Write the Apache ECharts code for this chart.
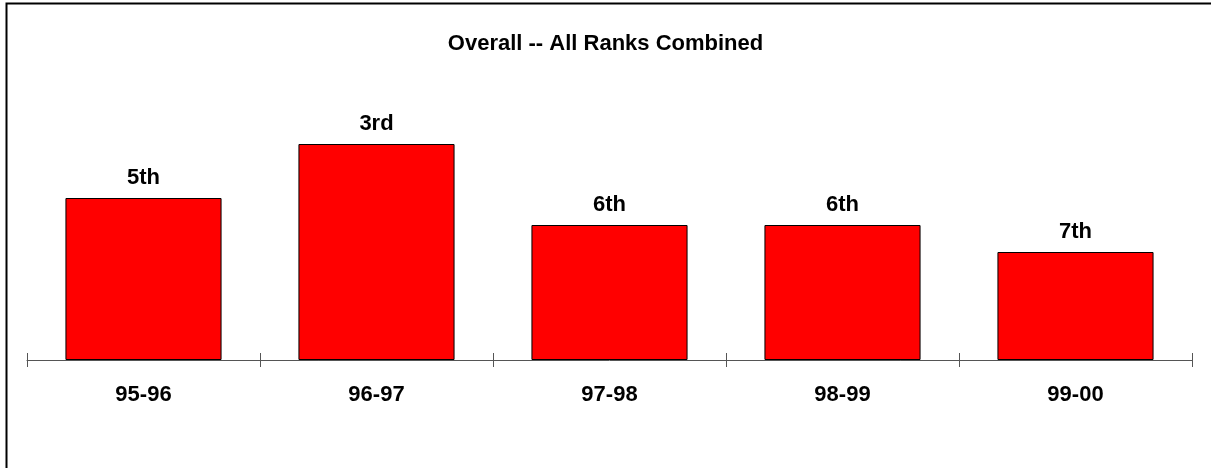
<!DOCTYPE html>
<html>
<head>
<meta charset="utf-8">
<script src="https://cdn.jsdelivr.net/npm/echarts@6/dist/echarts.min.js"></script>
<style>
  html, body { margin: 0; padding: 0; background: #fff; }
  #chart { width: 1211px; height: 468px; }
</style>
</head>
<body>
<div id="chart"></div>
<script>
// Seasons and the overall rank earned in each
const seasons = ['95-96', '96-97', '97-98', '98-99', '99-00'];
const ranks = [5, 3, 6, 6, 7];
// Bars are taller for better ranks: height = number of places above 11th
const RANK_BASE = 11;

function ordinal(n) {
  const s = ['th', 'st', 'nd', 'rd'];
  const v = n % 100;
  return n + (s[(v - 20) % 10] || s[v] || s[0]);
}

const barData = ranks.map(r => ({ value: RANK_BASE - r, rank: r }));

const FONT = '"Liberation Sans", Arial, Helvetica, sans-serif';
const chart = echarts.init(document.getElementById('chart'), null, { renderer: 'canvas' });

const axisLine = { show: true, lineStyle: { color: '#555', width: 1 } };

chart.setOption({
  animation: false,
  backgroundColor: '#fff',
  title: {
    text: 'Overall -- All Ranks Combined',
    left: 'center',
    top: 28,
    textStyle: { fontFamily: FONT, fontSize: 22, fontWeight: 'bold', color: '#000' }
  },
  grid: { left: 27, right: 19, top: 90, bottom: 108 },
  xAxis: [
    {
      type: 'category',
      data: seasons,
      position: 'bottom',
      axisLine: axisLine,
      axisTick: { show: true, length: 7, lineStyle: { color: '#555' } },
      axisLabel: {
        margin: 24,
        fontFamily: FONT, fontSize: 22, fontWeight: 'bold', color: '#000'
      }
    },
    {
      // second copy of the axis draws the upper half of each tick
      type: 'category',
      data: seasons,
      position: 'bottom',
      offset: 0,
      axisLine: { show: false },
      axisTick: { show: true, inside: true, length: 7, lineStyle: { color: '#555' } },
      axisLabel: { show: false }
    }
  ],
  yAxis: {
    type: 'value',
    min: 0,
    max: 10,
    show: false
  },
  series: [{
    type: 'bar',
    xAxisIndex: 0,
    data: barData,
    barWidth: '67%',
    itemStyle: { color: '#ff0000', borderColor: '#000', borderWidth: 1 },
    label: {
      show: true,
      position: 'top',
      distance: 9,
      formatter: p => ordinal(p.data.rank),
      fontFamily: FONT, fontSize: 22, fontWeight: 'bold', color: '#000'
    }
  }],
  graphic: [{
    type: 'polyline',
    shape: { points: [[6.5, 468], [6.5, 3.5], [1211, 3.5]] },
    style: { stroke: '#000', lineWidth: 2, fill: null },
    silent: true
  }]
});
</script>
</body>
</html>
